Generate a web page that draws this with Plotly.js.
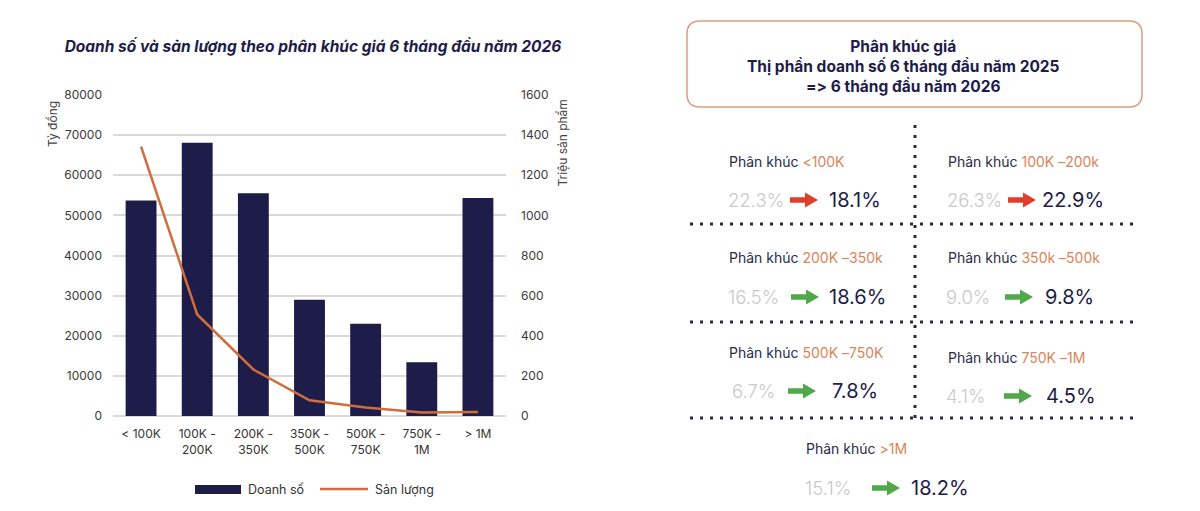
<!DOCTYPE html>
<html>
<head>
<meta charset="utf-8">
<script src="https://cdn.plot.ly/plotly-3.0.1.min.js"></script>
<style>
  html, body { margin: 0; padding: 0; background: #ffffff; }
  #chart { width: 1200px; height: 511px; }
  #chart text { font-feature-settings: "calt" 0, "liga" 0; font-variant-ligatures: none; }
</style>
</head>
<body>
<div id="chart"></div>
<script>
// Price segments (x axis) and the two series
const categories = ['< 100K', '100K -<br>200K', '200K -<br>350K', '350K -<br>500K', '500K -<br>750K', '750K -<br>1M', '> 1M'];
const revenue = [53700, 68100, 55500, 29000, 23000, 13400, 54300];   // Doanh số, tỷ đồng
const volume = [1343, 506, 232, 78, 42, 17, 20];                      // Sản lượng, triệu sản phẩm

// Revenue share by segment, H1 2025 -> H1 2026
const segmentNames = ['<100K', '100K –200k', '200K –350k', '350k –500k', '500K –750K', '750K –1M', '>1M'];
const share2025 = [22.3, 26.3, 16.5, 9.0, 6.7, 4.1, 15.1];
const share2026 = [18.1, 22.9, 18.6, 9.8, 7.8, 4.5, 18.2];

const NAVY = '#1e1c48';
const ORANGE = '#cf6d3b';
const FONT = 'Inter, "Noto Sans", sans-serif';

// plot area in pixels, used to place decorations in paper units
const PL = 113, PR = 506, PT = 95, PB = 416;
const px = X => (X - PL) / (PR - PL);
const py = Y => (PB - Y) / (PB - PT);
const pt = (X, Y) => px(X).toFixed(5) + ',' + py(Y).toFixed(5);
const esc = s => s.replace(/</g, '&lt;').replace(/>/g, '&gt;');

const traces = [
  {
    type: 'bar', name: 'Doanh số', x: categories, y: revenue,
    marker: { color: NAVY }, yaxis: 'y', showlegend: false
  },
  {
    type: 'scatter', mode: 'lines', name: 'Sản lượng', x: categories, y: volume,
    line: { color: ORANGE, width: 2.5 }, yaxis: 'y2', showlegend: false
  }
];

const shapes = [];
const annotations = [];

// axis titles, top aligned
annotations.push({
  xref: 'paper', yref: 'paper', x: px(52), y: py(99), xanchor: 'center', yanchor: 'top',
  text: 'Tỷ đồng', textangle: -90, showarrow: false,
  font: { family: FONT, size: 12, color: '#444444' }
});
annotations.push({
  xref: 'paper', yref: 'paper', x: px(562), y: py(98), xanchor: 'center', yanchor: 'top',
  text: 'Triệu sản phẩm', textangle: -90, showarrow: false,
  font: { family: FONT, size: 12, color: '#444444' }
});

// legend
shapes.push({ type: 'rect', xref: 'paper', yref: 'paper', x0: px(195), x1: px(241), y0: py(485), y1: py(494),
  fillcolor: NAVY, line: { width: 0 } });
annotations.push({ xref: 'paper', yref: 'paper', x: px(246), y: py(489), xanchor: 'left', yanchor: 'middle',
  text: 'Doanh số', showarrow: false, font: { family: FONT, size: 12.5, color: '#333333' } });
shapes.push({ type: 'line', xref: 'paper', yref: 'paper', x0: px(320), x1: px(368), y0: py(489), y1: py(489),
  line: { color: ORANGE, width: 2.5 } });
annotations.push({ xref: 'paper', yref: 'paper', x: px(373), y: py(489), xanchor: 'left', yanchor: 'middle',
  text: 'Sản lượng', showarrow: false, font: { family: FONT, size: 12.5, color: '#333333' } });

// header box of the share panel
(function () {
  const x0 = 687, x1 = 1142, y0 = 21, y1 = 107, r = 13;
  const path = 'M' + pt(x0 + r, y0) + ' L' + pt(x1 - r, y0) + ' Q' + pt(x1, y0) + ' ' + pt(x1, y0 + r) +
    ' L' + pt(x1, y1 - r) + ' Q' + pt(x1, y1) + ' ' + pt(x1 - r, y1) +
    ' L' + pt(x0 + r, y1) + ' Q' + pt(x0, y1) + ' ' + pt(x0, y1 - r) +
    ' L' + pt(x0, y0 + r) + ' Q' + pt(x0, y0) + ' ' + pt(x0 + r, y0) + ' Z';
  shapes.push({ type: 'path', xref: 'paper', yref: 'paper', path: path,
    line: { color: '#dc9c7e', width: 1.5 }, fillcolor: 'rgba(0,0,0,0)' });
  annotations.push({
    xref: 'paper', yref: 'paper', x: px(903), y: py(66), xanchor: 'center', yanchor: 'middle',
    text: 'Phân khúc giá<br>Thị phần doanh số 6 tháng đầu năm 2025<br>=&gt; 6 tháng đầu năm 2026',
    showarrow: false, align: 'center',
    font: { family: FONT, size: 15.5, color: NAVY, weight: 700 }
  });
})();

// dotted separators
const DOT = { color: '#2a2a3a', width: 3, dash: '3px,7px' };
shapes.push({ type: 'line', xref: 'paper', yref: 'paper', x0: px(915), x1: px(915), y0: py(125), y1: py(418), line: DOT });
[224, 322, 418].forEach(Y => {
  shapes.push({ type: 'line', xref: 'paper', yref: 'paper', x0: px(690), x1: px(1136), y0: py(Y), y1: py(Y), line: DOT });
});

// cell layout: label position, value row, old value, arrow start, new value
const cells = [
  { lx: 727, ly: 161, vy: 200, ox: 726, ax: 790, nx: 827 },
  { lx: 946, ly: 161, vy: 200, ox: 945, ax: 1008, nx: 1040 },
  { lx: 727, ly: 257, vy: 297, ox: 726, ax: 791, nx: 827 },
  { lx: 946, ly: 257, vy: 297, ox: 944, ax: 1005, nx: 1043 },
  { lx: 727, ly: 352, vy: 391, ox: 730, ax: 788, nx: 830 },
  { lx: 946, ly: 357, vy: 396, ox: 944, ax: 1004, nx: 1044 },
  { lx: 804, ly: 448, vy: 488, ox: 803, ax: 872, nx: 909 }
];

segmentNames.forEach((name, i) => {
  const c = cells[i];
  annotations.push({
    xref: 'paper', yref: 'paper', x: px(c.lx), y: py(c.ly), xanchor: 'left', yanchor: 'middle',
    text: 'Phân khúc <span style="color:#d98557">' + esc(name) + '</span>', showarrow: false,
    font: { family: FONT, size: 14, color: '#2b2b48' }
  });
  annotations.push({
    xref: 'paper', yref: 'paper', x: px(c.ox), y: py(c.vy), xanchor: 'left', yanchor: 'middle',
    text: share2025[i].toFixed(1) + '%', showarrow: false,
    font: { family: FONT, size: 18.5, color: '#c9c9c9', weight: 300 }
  });
  annotations.push({
    xref: 'paper', yref: 'paper', x: px(c.nx), y: py(c.vy), xanchor: 'left', yanchor: 'middle',
    text: share2026[i].toFixed(1) + '%', showarrow: false,
    font: { family: FONT, size: 20, color: NAVY }
  });
  const col = share2026[i] >= share2025[i] ? '#4fa84a' : '#e0402b';
  const a = c.ax, y = c.vy;
  const path = 'M' + pt(a, y - 2.8) + ' L' + pt(a + 15, y - 2.8) + ' L' + pt(a + 15, y - 7.5) +
    ' L' + pt(a + 28, y) + ' L' + pt(a + 15, y + 7.5) + ' L' + pt(a + 15, y + 2.8) + ' L' + pt(a, y + 2.8) + ' Z';
  shapes.push({ type: 'path', xref: 'paper', yref: 'paper', path: path, fillcolor: col, line: { width: 0 } });
});

const layout = {
  width: 1200, height: 511,
  margin: { l: PL, r: 1200 - PR, t: PT, b: 511 - PB, pad: 0 },
  paper_bgcolor: '#ffffff', plot_bgcolor: '#ffffff',
  font: { family: FONT, color: '#333333' },
  title: {
    text: 'Doanh số và sản lượng theo phân khúc giá 6 tháng đầu năm 2026',
    xref: 'container', yref: 'container', x: 313 / 1200, y: 1 - 47 / 511,
    xanchor: 'center', yanchor: 'middle',
    font: { family: FONT, size: 15.5, color: NAVY, weight: 700, style: 'italic' }
  },
  bargap: 0.45,
  xaxis: {
    type: 'category', showgrid: false, zeroline: false, showline: false,
    ticks: '', ticklabelstandoff: 9,
    tickfont: { family: FONT, size: 12, color: '#333333' }, fixedrange: true
  },
  yaxis: {
    range: [0, 80000], dtick: 10000, tickformat: 'd',
    showgrid: true, gridcolor: '#d9d9d9', gridwidth: 2,
    zeroline: true, zerolinecolor: '#d9d9d9', zerolinewidth: 2,
    showline: false, ticks: '', ticklabelstandoff: 10,
    tickfont: { family: FONT, size: 12, color: '#3a3a3a' }, fixedrange: true
  },
  yaxis2: {
    overlaying: 'y', side: 'right', range: [0, 1600], dtick: 200, tickformat: 'd',
    showgrid: false, zeroline: false, showline: false, ticks: '', ticklabelstandoff: 14,
    tickfont: { family: FONT, size: 12, color: '#3a3a3a' }, fixedrange: true
  },
  shapes: shapes,
  annotations: annotations,
  showlegend: false,
  hovermode: false
};

Plotly.newPlot('chart', traces, layout, { staticPlot: true, displayModeBar: false });
</script>
</body>
</html>
